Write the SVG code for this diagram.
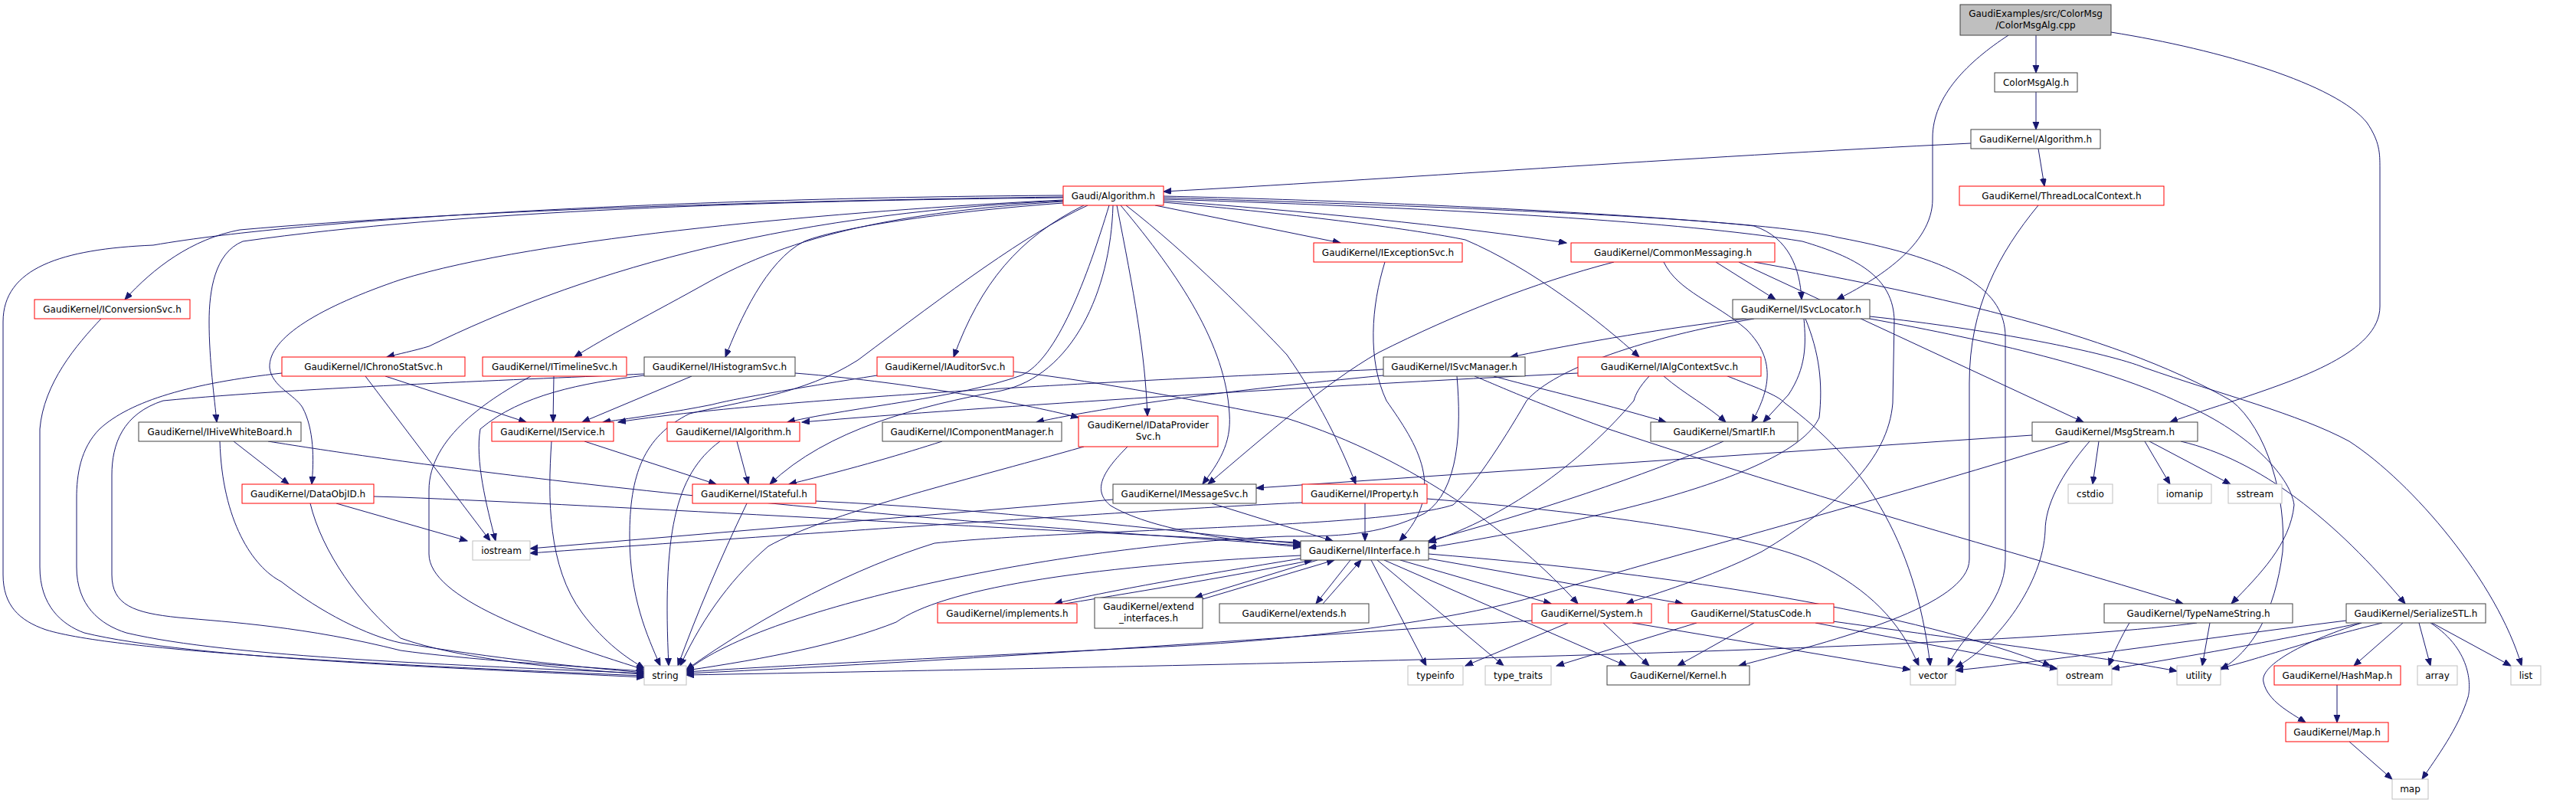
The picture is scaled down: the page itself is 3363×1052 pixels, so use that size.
<svg xmlns="http://www.w3.org/2000/svg" width="3363" height="1052" viewBox="0 0 3363 1052">
<style>
rect{fill:#fff;stroke-width:1}
.r{stroke:#ff0000}
.b{stroke:#404040}
.g{stroke:#bfbfbf}
.root{fill:#bfbfbf;stroke:#404040}
text{font-family:"DejaVu Sans","Liberation Sans",sans-serif;font-size:12px;fill:#000;text-anchor:middle}
#edges path{fill:none;stroke:#191970;stroke-width:1;marker-end:url(#ah)}
</style>
<defs>
<marker id="ah" markerUnits="userSpaceOnUse" markerWidth="11" markerHeight="9" refX="10" refY="4" orient="auto">
<path d="M0,0 L10,4 L0,8 z" fill="#191970" stroke="#191970" stroke-width="1"/>
</marker>
</defs>
<rect width="3363" height="1052" style="fill:#fff;stroke:none"/>
<g id="edges">
<path d="M2658,46 L2658,95"/>
<path d="M2658,120 L2658,169"/>
<path d="M2661,194 L2669,243"/>
<path d="M2573,187 C2200,205 1800,235 1519,250"/>
<path d="M2622,46 C2570,80 2523,125 2523,180 L2523,260 C2523,320 2450,365 2398,391"/>
<path d="M2756,42 C2900,65 3050,110 3090,160 C3107,185 3107,200 3107,220 L3107,400 C3107,460 3000,495 2920,522 C2890,532 2860,541 2833,551"/>
<path d="M2661,268 C2610,330 2571,400 2571,500 L2571,730 C2571,790 2400,835 2270,869"/>
<path d="M1388,257 C1000,262 600,275 313,300 C250,312 200,350 163,391"/>
<path d="M1388,255 C900,258 400,285 200,320 C80,325 4,350 4,420 L4,750 C4,790 25,810 60,822 C150,850 500,868 841,882"/>
<path d="M1388,262 C1000,280 750,360 560,452 C540,458 520,462 505,466"/>
<path d="M1388,261 C1100,275 700,310 523,365 C420,400 350,440 352,480 C355,505 385,515 395,532 C410,560 410,600 407,632"/>
<path d="M1388,263 C1200,275 1050,300 927,367 C850,410 790,440 750,466"/>
<path d="M1388,265 C1250,275 1100,295 1050,315 C1000,340 965,420 947,466"/>
<path d="M1388,258 C1000,262 600,275 317,315 C280,330 273,380 273,420 C273,470 280,520 283,551"/>
<path d="M1420,268 C1340,305 1240,380 1120,470 C1050,515 960,525 900,540 C840,570 822,620 822,700 C822,780 845,830 862,869"/>
<path d="M1415,268 C1330,310 1280,370 1245,466"/>
<path d="M1448,268 C1420,360 1380,470 1333,490 C1250,520 1120,530 1028,551"/>
<path d="M1453,268 C1450,380 1400,490 1307,510 C1200,530 1080,560 1005,632"/>
<path d="M1458,268 C1480,380 1495,460 1498,543"/>
<path d="M1463,268 C1540,360 1600,450 1605,540 C1608,580 1590,605 1570,632"/>
<path d="M1470,268 C1550,330 1640,420 1680,463 C1720,520 1750,580 1770,632"/>
<path d="M1508,268 L1750,317"/>
<path d="M1519,262 C1700,275 1900,295 2045,317"/>
<path d="M1519,264 C1700,280 1850,300 1913,313 C2000,350 2090,420 2140,466"/>
<path d="M1519,256 C1900,265 2200,285 2290,295 C2335,310 2350,350 2352,391"/>
<path d="M1519,258 C1900,270 2300,285 2400,310 C2560,340 2618,380 2618,440 L2618,730 C2618,790 2560,830 2543,869"/>
<path d="M1519,260 C1900,272 2200,290 2353,315 C2420,335 2473,360 2473,420 L2471,526 C2465,600 2400,660 2300,720 C2230,755 2160,775 2123,788"/>
<path d="M132,416 C100,450 57,500 52,560 L52,740 C52,790 80,815 110,826 C250,860 600,872 841,884"/>
<path d="M503,491 L687,551"/>
<path d="M477,491 L640,706"/>
<path d="M368,487 C250,500 170,523 130,560 C105,585 100,620 100,650 L100,740 C100,790 130,815 165,826 C300,858 600,868 841,879"/>
<path d="M723,491 L722,551"/>
<path d="M693,491 C640,520 560,570 560,640 L560,723 C560,780 700,830 841,874"/>
<path d="M903,491 L760,551"/>
<path d="M1038,487 C1200,500 1350,530 1408,545"/>
<path d="M841,490 C760,500 680,515 627,560 C620,600 635,660 647,706"/>
<path d="M841,488 C700,495 400,505 213,523 C160,540 146,580 146,620 L146,750 C146,790 175,800 233,806 C300,812 400,818 523,849 C600,860 750,870 841,876"/>
<path d="M1145,490 C1050,505 960,520 930,528 C880,538 830,545 787,551"/>
<path d="M1323,485 C1450,500 1560,523 1680,546 C1850,600 1980,700 2060,788"/>
<path d="M1808,342 C1790,400 1785,470 1810,523 C1850,580 1890,640 1827,706"/>
<path d="M2240,342 L2318,391"/>
<path d="M2270,342 L2720,551"/>
<path d="M2172,342 C2190,380 2240,395 2280,430 C2320,470 2310,510 2287,551"/>
<path d="M2107,342 C2000,370 1900,410 1800,460 C1730,500 1650,570 1577,632"/>
<path d="M2290,342 C2500,380 2750,430 2913,523 C2960,560 2985,650 2980,720 C2970,800 2940,850 2899,874"/>
<path d="M2280,416 C2200,425 2100,440 1972,466"/>
<path d="M2355,416 C2358,450 2358,480 2335,515 L2302,551"/>
<path d="M2357,416 C2375,460 2380,500 2375,545 C2350,600 2200,660 1865,715"/>
<path d="M2441,413 C2600,430 2750,460 2800,480 C2900,515 3000,540 3067,576 C3150,630 3260,760 3292,869"/>
<path d="M2441,416 C2600,445 2750,480 2847,526 C2930,560 2990,620 2995,659 C2990,710 2950,750 2913,788"/>
<path d="M2290,416 C2150,440 2030,480 1993,523 C1960,580 1920,640 1897,659 C1800,690 1400,690 1220,709 C1120,740 1000,800 896,874"/>
<path d="M1806,482 C1500,495 1000,520 807,551"/>
<path d="M1806,490 C1600,510 1450,530 1353,551"/>
<path d="M1950,491 C2000,505 2080,523 2175,551"/>
<path d="M1925,491 C1960,505 1990,520 2100,560 C2400,660 2700,740 2850,788"/>
<path d="M1902,491 C1908,560 1905,640 1860,670 C1800,700 1740,700 1680,700 C1400,710 1000,790 896,876"/>
<path d="M2060,487 C1700,505 1300,530 1047,551"/>
<path d="M2153,491 C2140,505 2135,515 2133,523 C2050,620 1950,680 1865,708"/>
<path d="M2172,491 C2200,515 2230,530 2253,551"/>
<path d="M2253,490 C2290,505 2320,515 2330,526 C2430,600 2500,700 2520,869"/>
<path d="M305,576 L377,632"/>
<path d="M350,576 C500,600 900,660 1698,712"/>
<path d="M287,576 C290,680 330,740 367,759 C420,800 480,830 523,839 C650,860 750,870 841,878"/>
<path d="M439,657 L610,706"/>
<path d="M405,657 C420,720 470,790 523,833 C600,860 720,872 841,880"/>
<path d="M488,648 L523,649 C800,660 1300,690 1698,708"/>
<path d="M763,576 L935,632"/>
<path d="M720,576 C715,650 715,740 760,800 C790,840 820,860 841,872"/>
<path d="M962,576 L977,632"/>
<path d="M940,576 C880,620 865,700 873,869"/>
<path d="M975,657 C940,730 910,800 885,869"/>
<path d="M1065,654 C1300,665 1500,690 1698,710"/>
<path d="M1230,576 C1180,592 1120,610 1030,632"/>
<path d="M1472,583 C1440,615 1425,640 1450,660 C1500,690 1600,705 1698,714"/>
<path d="M1415,583 C1250,630 1080,670 1003,713 C960,750 920,800 888,869"/>
<path d="M1453,652 L692,716"/>
<path d="M1582,657 L1740,706"/>
<path d="M1782,657 L1782,706"/>
<path d="M1700,656 C1500,665 1000,700 692,722"/>
<path d="M1863,651 C2100,670 2300,700 2373,736 C2440,770 2480,810 2505,869"/>
<path d="M2740,576 L2732,632"/>
<path d="M2800,576 L2833,632"/>
<path d="M2806,576 L2912,632"/>
<path d="M2847,576 C2950,600 3050,680 3140,788"/>
<path d="M2728,576 C2690,620 2670,660 2670,693 C2667,760 2610,840 2553,871"/>
<path d="M2702,576 C2500,640 2200,720 2013,776 C1900,810 1700,836 1500,845 C1200,860 1000,870 896,877"/>
<path d="M2653,568 L1640,637"/>
<path d="M2000,810 C1700,830 1300,860 896,879"/>
<path d="M2868,813 C2600,850 1500,870 896,881"/>
<path d="M2047,813 L1913,869"/>
<path d="M2093,813 L2153,869"/>
<path d="M2131,813 L2494,874"/>
<path d="M2290,813 L2190,869"/>
<path d="M2215,813 L2032,869"/>
<path d="M2370,813 L2686,873"/>
<path d="M2393,811 C2600,840 2750,858 2842,876"/>
<path d="M1790,731 L1862,869"/>
<path d="M1798,731 L1963,869"/>
<path d="M1807,731 L2123,869"/>
<path d="M1828,731 L2025,788"/>
<path d="M1865,729 L2197,788"/>
<path d="M1865,723 C2200,750 2500,800 2677,869"/>
<path d="M1698,725 C1400,740 1230,770 1170,812 C1100,840 1000,860 896,875"/>
<path d="M1698,729 C1600,745 1450,770 1377,788"/>
<path d="M1390,788 C1500,770 1620,750 1713,731"/>
<path d="M1720,731 L1560,780"/>
<path d="M1570,782 L1742,731"/>
<path d="M1763,731 L1718,788"/>
<path d="M1727,788 L1777,731"/>
<path d="M2250,576 C2150,620 2000,670 1865,706"/>
<path d="M2885,813 L2875,869"/>
<path d="M2780,813 C2770,830 2760,850 2753,869"/>
<path d="M3063,810 C2900,830 2700,860 2553,875"/>
<path d="M3083,813 C3000,830 2900,850 2757,873"/>
<path d="M3110,813 C3000,840 2950,860 2899,872"/>
<path d="M3137,813 L3073,869"/>
<path d="M3158,813 L3173,869"/>
<path d="M3175,813 L3278,869"/>
<path d="M3173,813 C3230,850 3225,900 3222,910 C3210,950 3180,990 3162,1017"/>
<path d="M3083,813 C3000,840 2950,870 2955,890 C2960,915 2990,930 3010,943"/>
<path d="M3051,894 L3051,943"/>
<path d="M3067,968 L3123,1017"/>
</g>
<g id="n_root"><rect class="root" x="2559" y="6" width="197" height="40"/><text x="2657.5" y="21.5">GaudiExamples/src/ColorMsg</text><text x="2657.5" y="36.5">/ColorMsgAlg.cpp</text></g>
<g id="n_colormsgalg_h"><rect class="b" x="2604" y="95" width="108" height="25"/><text x="2658" y="112">ColorMsgAlg.h</text></g>
<g id="n_gk_algorithm_h"><rect class="b" x="2573" y="169" width="169" height="25"/><text x="2657.5" y="186">GaudiKernel/Algorithm.h</text></g>
<g id="n_threadlocalcontext"><rect class="r" x="2558" y="243" width="267" height="25"/><text x="2691.5" y="260">GaudiKernel/ThreadLocalContext.h</text></g>
<g id="n_gaudi_algorithm"><rect class="r" x="1388" y="243" width="131" height="25"/><text x="1453.5" y="260">Gaudi/Algorithm.h</text></g>
<g id="n_iconversionsvc"><rect class="r" x="45" y="391" width="203" height="25"/><text x="146.5" y="408">GaudiKernel/IConversionSvc.h</text></g>
<g id="n_iexceptionsvc"><rect class="r" x="1715" y="317" width="194" height="25"/><text x="1812" y="334">GaudiKernel/IExceptionSvc.h</text></g>
<g id="n_commonmessaging"><rect class="r" x="2051" y="317" width="266" height="25"/><text x="2184" y="334">GaudiKernel/CommonMessaging.h</text></g>
<g id="n_isvclocator"><rect class="b" x="2262" y="391" width="179" height="25"/><text x="2351.5" y="408">GaudiKernel/ISvcLocator.h</text></g>
<g id="n_ichronostatsvc"><rect class="r" x="368" y="466" width="239" height="25"/><text x="487.5" y="483">GaudiKernel/IChronoStatSvc.h</text></g>
<g id="n_itimelinesvc"><rect class="r" x="630" y="466" width="188" height="25"/><text x="724" y="483">GaudiKernel/ITimelineSvc.h</text></g>
<g id="n_ihistogramsvc"><rect class="b" x="841" y="466" width="197" height="25"/><text x="939.5" y="483">GaudiKernel/IHistogramSvc.h</text></g>
<g id="n_iauditorsvc"><rect class="r" x="1145" y="466" width="178" height="25"/><text x="1234" y="483">GaudiKernel/IAuditorSvc.h</text></g>
<g id="n_isvcmanager"><rect class="b" x="1806" y="466" width="185" height="25"/><text x="1898.5" y="483">GaudiKernel/ISvcManager.h</text></g>
<g id="n_ialgcontextsvc"><rect class="r" x="2060" y="466" width="239" height="25"/><text x="2179.5" y="483">GaudiKernel/IAlgContextSvc.h</text></g>
<g id="n_ihivewhiteboard"><rect class="b" x="181" y="551" width="212" height="25"/><text x="287" y="568">GaudiKernel/IHiveWhiteBoard.h</text></g>
<g id="n_iservice"><rect class="r" x="642" y="551" width="159" height="25"/><text x="721.5" y="568">GaudiKernel/IService.h</text></g>
<g id="n_ialgorithm"><rect class="r" x="871" y="551" width="173" height="25"/><text x="957.5" y="568">GaudiKernel/IAlgorithm.h</text></g>
<g id="n_icomponentmanager"><rect class="b" x="1152" y="551" width="234" height="25"/><text x="1269" y="568">GaudiKernel/IComponentManager.h</text></g>
<g id="n_idataprovidersvc"><rect class="r" x="1408" y="543" width="182" height="40"/><text x="1499" y="558.5">GaudiKernel/IDataProvider</text><text x="1499" y="573.5">Svc.h</text></g>
<g id="n_smartif"><rect class="b" x="2155" y="551" width="192" height="25"/><text x="2251" y="568">GaudiKernel/SmartIF.h</text></g>
<g id="n_msgstream"><rect class="b" x="2653" y="551" width="216" height="25"/><text x="2761" y="568">GaudiKernel/MsgStream.h</text></g>
<g id="n_dataobjid"><rect class="r" x="316" y="632" width="172" height="25"/><text x="402" y="649">GaudiKernel/DataObjID.h</text></g>
<g id="n_istateful"><rect class="r" x="904" y="632" width="161" height="25"/><text x="984.5" y="649">GaudiKernel/IStateful.h</text></g>
<g id="n_imessagesvc"><rect class="b" x="1453" y="632" width="187" height="25"/><text x="1546.5" y="649">GaudiKernel/IMessageSvc.h</text></g>
<g id="n_iproperty"><rect class="r" x="1700" y="632" width="163" height="25"/><text x="1781.5" y="649">GaudiKernel/IProperty.h</text></g>
<g id="n_cstdio"><rect class="g" x="2700" y="632" width="58" height="25"/><text x="2729" y="649">cstdio</text></g>
<g id="n_iomanip"><rect class="g" x="2817" y="632" width="70" height="25"/><text x="2852" y="649">iomanip</text></g>
<g id="n_sstream"><rect class="g" x="2909" y="632" width="70" height="25"/><text x="2944" y="649">sstream</text></g>
<g id="n_iostream"><rect class="g" x="617" y="706" width="75" height="25"/><text x="654.5" y="723">iostream</text></g>
<g id="n_iinterface"><rect class="b" x="1698" y="706" width="167" height="25"/><text x="1781.5" y="723">GaudiKernel/IInterface.h</text></g>
<g id="n_implements"><rect class="r" x="1224" y="788" width="182" height="25"/><text x="1315" y="805">GaudiKernel/implements.h</text></g>
<g id="n_extend_interfaces"><rect class="b" x="1429" y="780" width="141" height="40"/><text x="1499.5" y="795.5">GaudiKernel/extend</text><text x="1499.5" y="810.5">_interfaces.h</text></g>
<g id="n_extends"><rect class="b" x="1592" y="788" width="195" height="25"/><text x="1689.5" y="805">GaudiKernel/extends.h</text></g>
<g id="n_system"><rect class="r" x="2000" y="788" width="156" height="25"/><text x="2078" y="805">GaudiKernel/System.h</text></g>
<g id="n_statuscode"><rect class="r" x="2178" y="788" width="216" height="25"/><text x="2286" y="805">GaudiKernel/StatusCode.h</text></g>
<g id="n_typenamestring"><rect class="b" x="2747" y="788" width="246" height="25"/><text x="2870" y="805">GaudiKernel/TypeNameString.h</text></g>
<g id="n_serializestl"><rect class="b" x="3063" y="788" width="182" height="25"/><text x="3154" y="805">GaudiKernel/SerializeSTL.h</text></g>
<g id="n_string"><rect class="g" x="841" y="869" width="55" height="25"/><text x="868.5" y="886">string</text></g>
<g id="n_typeinfo"><rect class="g" x="1838" y="869" width="72" height="25"/><text x="1874" y="886">typeinfo</text></g>
<g id="n_type_traits"><rect class="g" x="1939" y="869" width="86" height="25"/><text x="1982" y="886">type_traits</text></g>
<g id="n_kernel"><rect class="b" x="2098" y="869" width="186" height="25"/><text x="2191" y="886">GaudiKernel/Kernel.h</text></g>
<g id="n_vector"><rect class="g" x="2494" y="869" width="59" height="25"/><text x="2523.5" y="886">vector</text></g>
<g id="n_ostream"><rect class="g" x="2686" y="869" width="71" height="25"/><text x="2721.5" y="886">ostream</text></g>
<g id="n_utility"><rect class="g" x="2842" y="869" width="57" height="25"/><text x="2870.5" y="886">utility</text></g>
<g id="n_hashmap"><rect class="r" x="2969" y="869" width="165" height="25"/><text x="3051.5" y="886">GaudiKernel/HashMap.h</text></g>
<g id="n_array"><rect class="g" x="3156" y="869" width="52" height="25"/><text x="3182" y="886">array</text></g>
<g id="n_list"><rect class="g" x="3278" y="869" width="39" height="25"/><text x="3297.5" y="886">list</text></g>
<g id="n_map_h"><rect class="r" x="2984" y="943" width="134" height="25"/><text x="3051" y="960">GaudiKernel/Map.h</text></g>
<g id="n_map"><rect class="g" x="3123" y="1017" width="47" height="26"/><text x="3146.5" y="1034">map</text></g>
</svg>
